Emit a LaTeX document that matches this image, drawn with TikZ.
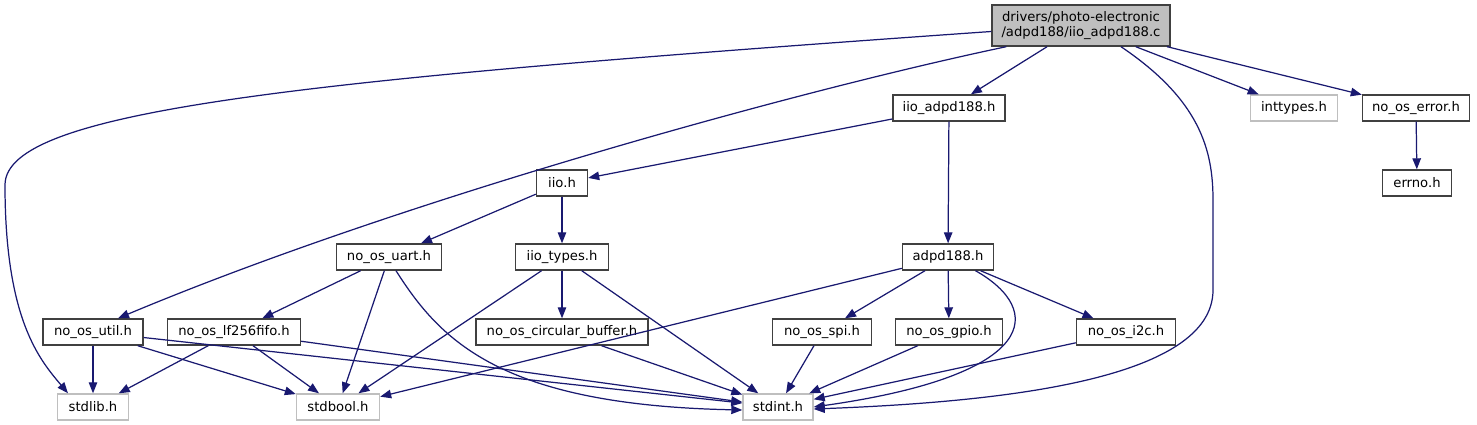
\documentclass[tikz,border=0pt]{standalone}
\usepackage{fontspec}
\setmainfont{DejaVu Sans}
\usetikzlibrary{arrows.meta}
\definecolor{edgec}{HTML}{191970}
\definecolor{boxc}{HTML}{404040}
\definecolor{sysc}{HTML}{BFBFBF}
\definecolor{rootc}{HTML}{BFBFBF}

\begin{document}
\begin{tikzpicture}[x=0.02cm, y=-0.02cm,
  font=\fontsize{7.5}{9}\selectfont,
  hdr/.style={draw=boxc, line width=0.8pt, fill=white, inner sep=0pt,
    minimum height=0.52cm},
  syshdr/.style={draw=sysc, line width=0.8pt, fill=white, inner sep=0pt,
    minimum height=0.52cm},
  dep/.style={draw=edgec, line width=0.7pt,
    -{Triangle[length=0.22cm, width=0.17cm]}}]

\def\ra{25.5}    % y of the source file
\def\rb{108}     % first include level
\def\rc{183}
\def\rd{257}
\def\re{332}
\def\rf{407}     % system headers

\useasboundingbox (0,0) rectangle (1477,425);

% ---- the file itself
\node[draw=boxc, fill=rootc, line width=0.8pt, align=center, inner sep=0pt,
      minimum width=3.56cm, minimum height=0.82cm] (root) at (1081,\ra)
  {drivers/photo-electronic\\/adpd188/iio\_adpd188.c};

% ---- documented headers: name/x/y/width(px)/text
\foreach \id/\x/\y/\w/\txt in {%
  iioh/949/\rb/112/{iio\_adpd188.h},
  err/1416/\rb/107/{no\_os\_error.h},
  errno/1417/\rc/69/{errno.h},
  iio/562/\rc/51/{iio.h},
  adpd/948/\rd/91/{adpd188.h},
  uart/389/\rd/105/{no\_os\_uart.h},
  types/562/\rd/93/{iio\_types.h},
  util/93/\re/100/{no\_os\_util.h},
  fifo/234/\re/133/{no\_os\_lf256fifo.h},
  circ/562/\re/172/{no\_os\_circular\_buffer.h},
  spi/822/\re/99/{no\_os\_spi.h},
  gpio/949/\re/107/{no\_os\_gpio.h},
  i2c/1126/\re/99/{no\_os\_i2c.h}%
}{
  \pgfmathsetmacro{\ww}{\w*0.02}
  \node[hdr, minimum width=\ww cm] (\id) at (\x,\y) {\txt};
}

% ---- system headers (no page of their own)
\foreach \id/\x/\y/\w/\txt in {%
  inttyp/1294/\rb/87/{inttypes.h},
  stdlib/93/\rf/71/{stdlib.h},
  stdbool/338/\rf/83/{stdbool.h},
  stdint/778/\rf/70/{stdint.h}%
}{
  \pgfmathsetmacro{\ww}{\w*0.02}
  \node[syshdr, minimum width=\ww cm] (\id) at (\x,\y) {\txt};
}

% ---- straight include edges
\foreach \a/\b in {root/iioh, root/inttyp, root/err,
  iioh/iio, iioh/adpd, err/errno,
  iio/uart, iio/types,
  uart/fifo, uart/stdbool,
  types/stdbool, types/circ, types/stdint,
  adpd/stdbool, adpd/spi, adpd/gpio, adpd/i2c,
  util/stdlib, util/stdbool, util/stdint,
  fifo/stdlib, fifo/stdbool, fifo/stdint,
  circ/stdint, spi/stdint, gpio/stdint, i2c/stdint}{
  \draw[dep] (\a) -- (\b);
}

% ---- the routed ones
\draw[dep] ([yshift=-0.12cm]root.west) .. controls (300,80) and (5,110) .. (5,185)
  .. controls (5,320) and (40,360) .. ([xshift=-0.5cm]stdlib.north);
\draw[dep] ([xshift=0.3cm]root.south west) .. controls (800,90) and (400,200)
  .. ([xshift=0.5cm]util.north);
\draw[dep] ([xshift=0.8cm]root.south) .. controls (1200,100) and (1213,150)
  .. (1213,200) -- (1213,290) .. controls (1213,380) and (1000,402)
  .. ([yshift=-0.04cm]stdint.east);
\draw[dep] ([xshift=0.55cm]adpd.south) .. controls (1045,310) and (1040,375)
  .. (stdint.east);
\draw[dep] ([xshift=0.14cm]uart.south) .. controls (440,340) and (500,405)
  .. ([yshift=-0.06cm]stdint.west);

\end{tikzpicture}
\end{document}
